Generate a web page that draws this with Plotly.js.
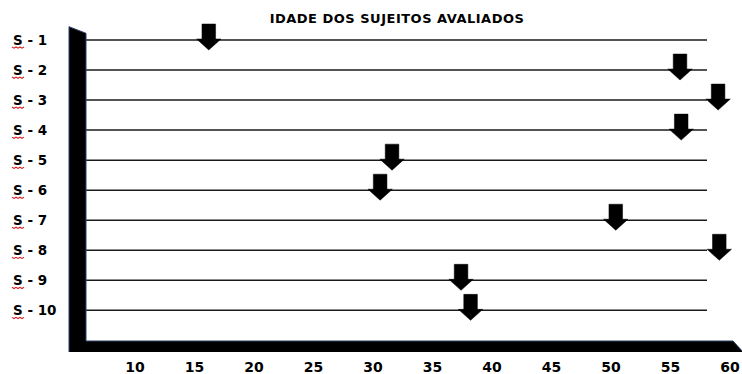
<!DOCTYPE html>
<html>
<head>
<meta charset="utf-8">
<script src="https://cdn.plot.ly/plotly-3.0.1.min.js"></script>
<style>
html,body{margin:0;padding:0;background:#fff;}
#chart{width:742px;height:374px;}
.gtitle{letter-spacing:0.5px;}
</style>
</head>
<body>
<div id="chart"></div>
<script>
// ---- data ----
const categorias = ['S - 1','S - 2','S - 3','S - 4','S - 5','S - 6','S - 7','S - 8','S - 9','S - 10'];
const idades = [16.2, 55.8, 59.0, 55.9, 31.6, 30.6, 50.4, 59.1, 37.4, 38.2];
const xTicks = [10, 15, 20, 25, 30, 35, 40, 45, 50, 55, 60];
const titulo = 'IDADE DOS SUJEITOS AVALIADOS';

// ---- geometry (pixel scale of the picture) ----
const W = 742, H = 374, MB = 22;           // plot area: 0..742 x 0..352
const PLOT_H = H - MB;
const X_REF_PX = 135, X_REF_V = 10, PX_PER_X = 11.9;
const Y_REF_PX = 40, PX_PER_Y = 30.04;
const xd = px => X_REF_V + (px - X_REF_PX) / PX_PER_X;
const yd = py => 1 + (py - Y_REF_PX) / PX_PER_Y;

const FONT = 'DejaVu Sans';
const traces = [];

// arrows (block arrow pointing down, tip just below each line)
const A = {shaftHalf: 6.8, headHalf: 12.2, top: -16, headStart: -1, tip: 10};
idades.forEach((v, k) => {
  const i = k + 1;
  const sx = A.shaftHalf / PX_PER_X, hx = A.headHalf / PX_PER_X;
  const t = A.top / PX_PER_Y, hs = A.headStart / PX_PER_Y, tp = A.tip / PX_PER_Y;
  traces.push({
    type: 'scatter', mode: 'lines', fill: 'toself',
    x: [v - sx, v + sx, v + sx, v + hx, v, v - hx, v - sx, v - sx],
    y: [i + t, i + t, i + hs, i + hs, i + tp, i + hs, i + hs, i + t],
    fillcolor: '#000', line: {color: '#000', width: 0.5},
    hoverinfo: 'skip', showlegend: false, name: categorias[k]
  });
});

// horizontal guide lines
const shapes = categorias.map((c, k) => ({
  type: 'line', xref: 'x', yref: 'y', layer: 'below',
  x0: xd(86), x1: xd(707), y0: k + 1, y1: k + 1,
  line: {color: '#1a1a1a', width: 1.5}
}));

// L-shaped black wall + floor
const p = (x, y) => xd(x) + ',' + yd(y);
shapes.push({
  type: 'path', xref: 'x', yref: 'y', layer: 'above',
  path: 'M' + p(69, 26.7) + ' L' + p(86, 33.3) + ' L' + p(86, 341) + ' L' + p(733, 341) +
        ' L' + p(744, 353) + ' L' + p(69, 353) + ' Z',
  fillcolor: '#000', line: {color: '#2c3e66', width: 1}
});

// red spell-check squiggle under each "S"
categorias.forEach((c, k) => {
  const yc = Y_REF_PX + k * PX_PER_Y + 7;
  let d = 'M' + p(12, yc);
  for (let s = 1; s <= 6; s++) d += ' L' + p(12 + s * 2, yc + (s % 2 ? 1.2 : 0));
  shapes.push({type: 'path', xref: 'x', yref: 'y', path: d,
    line: {color: '#d92020', width: 1.1}});
});

// left-aligned category labels
const annotations = categorias.map((c, k) => ({
  xref: 'x', yref: 'y', x: xd(11), y: k + 1, xanchor: 'left', yanchor: 'middle',
  text: c, showarrow: false,
  font: {family: FONT, size: 13.5, color: '#000', weight: 700}
}));

const layout = {
  width: W, height: H,
  margin: {l: 0, r: 0, t: 0, b: MB, pad: 0},
  paper_bgcolor: '#fff', plot_bgcolor: '#fff',
  showlegend: false,
  title: {
    text: titulo, x: 397 / W, xanchor: 'center', xref: 'paper',
    y: 1 - 18 / H, yanchor: 'middle', yref: 'container',
    font: {family: FONT, size: 13, color: '#000', weight: 700}
  },
  xaxis: {
    range: [xd(0), xd(W)], tickvals: xTicks, ticktext: xTicks.map(String),
    showgrid: false, zeroline: false, showline: false, ticks: '',
    ticklabelstandoff: 5,
    tickfont: {family: FONT, size: 14, color: '#000', weight: 700},
    fixedrange: true
  },
  yaxis: {
    range: [yd(PLOT_H), yd(0)], showgrid: false, zeroline: false,
    showline: false, showticklabels: false, ticks: '', fixedrange: true
  },
  shapes: shapes,
  annotations: annotations
};

Plotly.newPlot('chart', traces, layout, {displayModeBar: false, staticPlot: true});
</script>
</body>
</html>
